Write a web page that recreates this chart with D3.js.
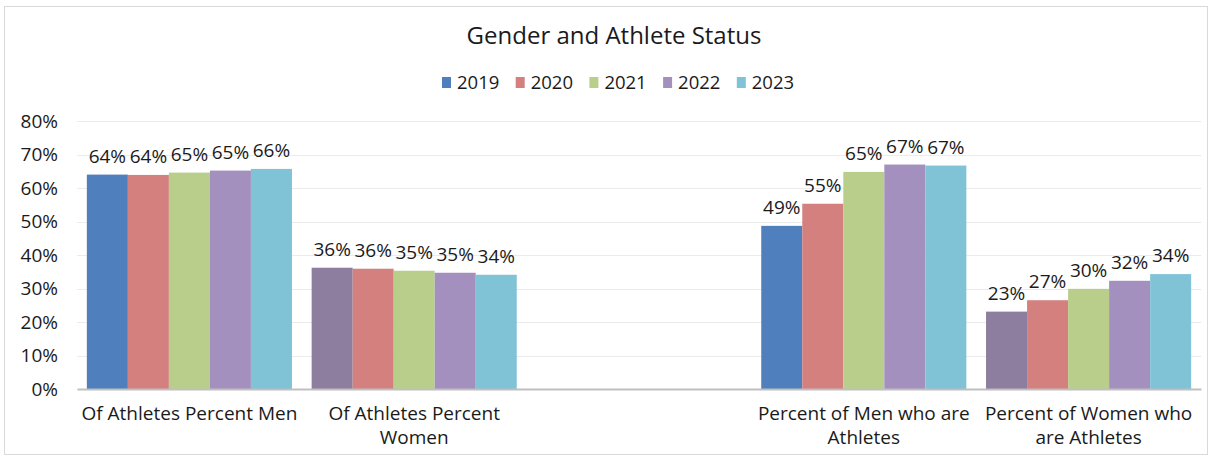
<!DOCTYPE html>
<html><head><meta charset="utf-8">
<script src="https://cdn.jsdelivr.net/npm/d3@7"></script>
<style>
body{margin:0;background:#fff;}
text{font-family:"Open Sans",Lato,sans-serif;fill:#1a1a1a;}
</style></head>
<body><svg id="c" width="1213" height="460"></svg>
<script>
const title = "Gender and Athlete Status";
const categories = ["Of Athletes Percent Men","Of Athletes Percent Women","","Percent of Men who are Athletes","Percent of Women who are Athletes"];
const years = ["2019","2020","2021","2022","2023"];
const v2019 = [0.640, 0.362, null, 0.487, 0.231];
const v2020 = [0.639, 0.359, null, 0.553, 0.265];
const v2021 = [0.646, 0.353, null, 0.648, 0.299];
const v2022 = [0.652, 0.347, null, 0.670, 0.323];
const v2023 = [0.657, 0.341, null, 0.667, 0.343];
const labels2019 = ["64%","36%","","49%","23%"];
const labels2020 = ["64%","36%","","55%","27%"];
const labels2021 = ["65%","35%","","65%","30%"];
const labels2022 = ["65%","35%","","67%","32%"];
const labels2023 = ["66%","34%","","67%","34%"];
const yTicks = [0,0.1,0.2,0.3,0.4,0.5,0.6,0.7,0.8];
const colors = ["#4F80BD","#D3807E","#B9CE8A","#A490BE","#81C3D6"];
const pointColor2019 = [null,"#8D7D9E",null,null,"#8D7D9E"];

const series = [v2019,v2020,v2021,v2022,v2023];
const seriesLabels = [labels2019,labels2020,labels2021,labels2022,labels2023];
const FS = 19;

const svg = d3.select("#c");
svg.append("rect").attr("x",4.5).attr("y",6.5).attr("width",1203).attr("height",448)
  .attr("fill","#fff").attr("stroke","#D9D9D9").attr("stroke-width",1);

const pLeft=77, pRight=1201, pTop=121, pBottom=389;
const x0 = d3.scaleBand().domain(d3.range(categories.length)).range([pLeft,pRight]).paddingInner(0).paddingOuter(0);
const x1 = d3.scaleBand().domain(d3.range(years.length)).range([0,x0.bandwidth()]).paddingOuter(0.24).paddingInner(0);
const y = d3.scaleLinear().domain([0,0.8]).range([pBottom,pTop]);

// grid
svg.append("g").selectAll("line").data(yTicks.slice(1)).join("line")
  .attr("x1",pLeft).attr("x2",pRight).attr("y1",d=>Math.round(y(d))+0.5).attr("y2",d=>Math.round(y(d))+0.5)
  .attr("stroke","#EBEBEB").attr("stroke-width",1);

// y axis labels
const yAxis = d3.axisLeft(y).tickValues(yTicks).tickFormat(d3.format(".0%")).tickSize(0).tickPadding(19);
const ya = svg.append("g").attr("transform",`translate(${pLeft},0)`).call(yAxis);
ya.select(".domain").remove();
ya.selectAll("text").style("font-size",FS+"px").style("font-family",'"Open Sans",Lato,sans-serif').attr("fill","#1a1a1a");

// bars
series.forEach((s,si)=>{
  const g = svg.append("g");
  s.forEach((v,ci)=>{
    if(v==null) return;
    let col = colors[si];
    if(si===0 && pointColor2019[ci]) col = pointColor2019[ci];
    const bx = x0(ci)+x1(si);
    g.append("rect").attr("x",bx).attr("y",y(v)).attr("width",x1.bandwidth()).attr("height",y(0)-y(v)).attr("fill",col);
    g.append("text").attr("x",bx+x1.bandwidth()/2).attr("y",y(v)-12).attr("text-anchor","middle")
      .style("font-size",FS+"px").text(seriesLabels[si][ci]);
  });
});

// x axis
const xAxis = d3.axisBottom(x0).tickSize(0).tickFormat("");
const xa = svg.append("g").attr("transform",`translate(0,${pBottom})`).call(xAxis);
xa.select(".domain").attr("stroke","#BFBFBF").attr("stroke-width",2);

// category labels with wrap
categories.forEach((c,i)=>{
  if(!c) return;
  const cx = x0(i)+x0.bandwidth()/2;
  const t = svg.append("text").attr("text-anchor","middle").style("font-size",FS+"px");
  const words = c.split(" ");
  let line=[], lines=[];
  const probe = svg.append("text").style("font-size",FS+"px");
  words.forEach(w=>{
    const test = line.concat([w]).join(" ");
    probe.text(test);
    if(probe.node().getComputedTextLength() > x0.bandwidth()+2 && line.length){
      lines.push(line.join(" ")); line=[w];
    } else line.push(w);
  });
  lines.push(line.join(" "));
  probe.remove();
  lines.forEach((l,k)=>t.append("tspan").attr("x",cx).attr("y",420+k*24).text(l));
});

// title
svg.append("text").attr("x",614).attr("y",44).attr("text-anchor","middle").style("font-size","24px").text(title);

// legend
const lg = svg.append("g");
years.forEach((yr,i)=>{
  const lx = 442 + i*73.7;
  lg.append("rect").attr("x",lx).attr("y",77).attr("width",9).attr("height",11).attr("fill",colors[i]);
  lg.append("text").attr("x",lx+15).attr("y",88.5).style("font-size","18.5px").text(yr);
});
</script></body></html>
